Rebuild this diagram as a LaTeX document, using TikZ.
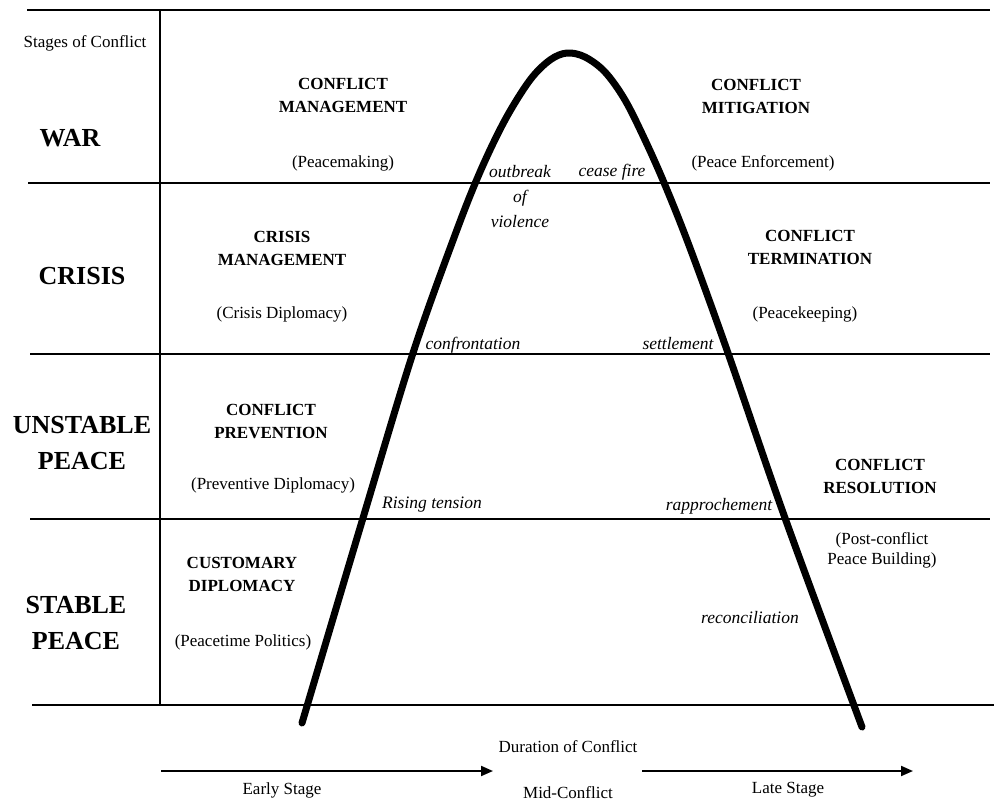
\documentclass[tikz,border=0pt]{standalone}
\usepackage{fontspec}
\setmainfont{Liberation Serif}
\usepackage{tikz}
\usetikzlibrary{arrows.meta, positioning}

\begin{document}
\begin{tikzpicture}[x=1pt, y=-1pt]
    % Define styles
    \tikzstyle{stage} = [font=\fontsize{26}{36}\selectfont\bfseries, align=center, inner sep=0pt]
    \tikzstyle{heading} = [font=\fontsize{17}{23}\selectfont\bfseries, align=center, inner sep=0pt]
    \tikzstyle{subtitle} = [font=\fontsize{17}{20}\selectfont, align=center, inner sep=0pt]
    \tikzstyle{event} = [font=\fontsize{17.5}{25}\selectfont\itshape, align=center, inner sep=0pt]
    \tikzstyle{axislabel} = [font=\fontsize{17}{20}\selectfont, inner sep=0pt]
    \tikzstyle{band} = [line width=2.5pt]
    \tikzstyle{curve} = [line width=7pt, line cap=round, line join=round]
    \tikzstyle{timearrow} = [-{Triangle[length=12pt, width=10pt]}, line width=2pt]

    \useasboundingbox (0,0) rectangle (994,811);

    % Table lines
    \draw[band] (27,10) -- (990,10);
    \draw[band] (28,183) -- (990,183);
    \draw[band] (30,354) -- (990,354);
    \draw[band] (30,519) -- (990,519);
    \draw[band] (32,705) -- (994,705);
    \draw[line width=1.5pt] (160,10) -- (160,705);

    % Conflict curve
    \draw[curve] plot[smooth, tension=0.55] coordinates {(302,723) (363,518) (413,353) (455,235) (480,172) (505,120) (530,80) (550,60) (567,53) (585,57) (605,72) (625,100) (645,140) (665,185) (690,248) (728,353) (785,518) (862,727)};

    % Stages
    \node[axislabel] (stages) at (85,43) {Stages of Conflict};
    \node[stage] (war) at (70,138) {WAR};
    \node[stage] (crisis) at (82,276) {CRISIS};
    \node[stage] (unstable) at (82,443) {UNSTABLE\\PEACE};
    \node[stage] (stable) at (76,623) {STABLE\\PEACE};

    % Early stage responses
    \node[heading] (management) at (343,95) {CONFLICT\\MANAGEMENT};
    \node[subtitle] (peacemaking) at (343,163) {(Peacemaking)};
    \node[heading] (crisismgmt) at (282,248) {CRISIS\\MANAGEMENT};
    \node[subtitle] (crisisdipl) at (282,314) {(Crisis Diplomacy)};
    \node[heading] (prevention) at (271,421) {CONFLICT\\PREVENTION};
    \node[subtitle] (preventive) at (273,485) {(Preventive Diplomacy)};
    \node[heading] (customary) at (242,574) {CUSTOMARY\\DIPLOMACY};
    \node[subtitle] (peacetime) at (243,642) {(Peacetime Politics)};

    % Late stage responses
    \node[heading] (mitigation) at (756,96) {CONFLICT\\MITIGATION};
    \node[subtitle] (enforcement) at (763,163) {(Peace Enforcement)};
    \node[heading] (termination) at (810,247) {CONFLICT\\TERMINATION};
    \node[subtitle] (peacekeeping) at (805,314) {(Peacekeeping)};
    \node[heading] (resolution) at (880,476) {CONFLICT\\RESOLUTION};
    \node[subtitle] (postconflict) at (882,550) {(Post-conflict\\Peace Building)};

    % Events along the curve
    \node[event] (outbreak) at (520,197) {outbreak\\of\\violence};
    \node[event] (ceasefire) at (612,172) {cease fire};
    \node[event] (confrontation) at (473,345) {confrontation};
    \node[event] (settlement) at (678,344) {settlement};
    \node[event] (rising) at (432,505) {Rising tension};
    \node[event] (rapprochement) at (719,506) {rapprochement};
    \node[event] (reconciliation) at (750,618) {reconciliation};

    % Time axis
    \node[axislabel] (duration) at (568,747) {Duration of Conflict};
    \node[axislabel] (early) at (282,790) {Early Stage};
    \node[axislabel] (mid) at (568,793) {Mid-Conflict};
    \node[axislabel] (late) at (788,790) {Late Stage};
    \coordinate (earlystart) at (161,771);
    \coordinate (earlyend) at (493,771);
    \coordinate (latestart) at (642,771);
    \coordinate (lateend) at (913,771);
    \draw[timearrow] (earlystart) -- (earlyend);
    \draw[timearrow] (latestart) -- (lateend);

\end{tikzpicture}
\end{document}
